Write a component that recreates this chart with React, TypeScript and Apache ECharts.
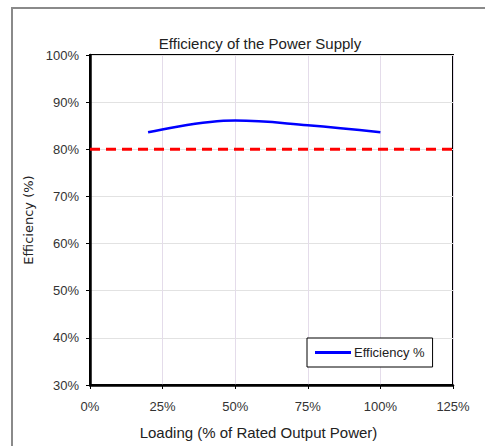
import React, { useEffect, useRef } from "react";
import * as echarts from "echarts";

const loading = [20, 50, 75, 100];
const efficiency = [83.6, 86.1, 85.1, 83.6];
const targetX = [0, 125];
const targetY = [80, 80];
const xTicks = [0, 25, 50, 75, 100, 125];
const yTicks = [30, 40, 50, 60, 70, 80, 90, 100];

const FONT = "Liberation Sans, Arial, sans-serif";

export default function App() {
  const ref = useRef<HTMLDivElement>(null);
  useEffect(() => {
    if (!ref.current) return;
    const chart = echarts.init(ref.current, null, { renderer: "svg" });
    chart.setOption({
      animation: false,
      backgroundColor: "#fff",
      textStyle: { fontFamily: FONT },
      title: {
        text: "Efficiency of the Power Supply",
        left: 255,
        top: 31,
        textAlign: "center",
        textStyle: { fontSize: 15, fontWeight: "normal", color: "#222", fontFamily: FONT },
      },
      graphic: [
        {
          type: "rect",
          shape: { x: 12, y: 8, width: 490, height: 460 },
          style: { fill: "none", stroke: "#8a8a8a", lineWidth: 2 },
          silent: true,
        },
      ],
      legend: {
        left: 307,
        top: 338,
        data: [{ name: "Efficiency %", icon: "rect" }],
        itemWidth: 36,
        itemHeight: 3,
        itemGap: 4,
        padding: [8, 8, 8, 8],
        borderColor: "#000",
        borderWidth: 1,
        borderRadius: 0,
        backgroundColor: "#fff",
        textStyle: { fontSize: 13, color: "#222", fontFamily: FONT, padding: [0, 0, 0, -2] },
      },
      grid: {
        left: 90,
        top: 55,
        right: 32,
        bottom: 61,
        show: true,
        borderColor: "#000",
        borderWidth: 2,
        backgroundColor: "transparent",
      },
      xAxis: {
        type: "value",
        min: xTicks[0],
        max: xTicks[xTicks.length - 1],
        interval: 25,
        name: "Loading (% of Rated Output Power)",
        nameLocation: "middle",
        nameGap: 40,
        nameTextStyle: { fontSize: 15, color: "#222", fontFamily: FONT, padding: [0, 26, 0, 0] },
        axisLine: { lineStyle: { color: "#000", width: 2.5 } },
        axisTick: { show: true, length: 4, lineStyle: { color: "#000" } },
        axisLabel: { formatter: "{value}%", fontSize: 13, color: "#333", margin: 15 },
        splitLine: { show: true, lineStyle: { color: "#e4dcea", width: 1 } },
      },
      yAxis: {
        type: "value",
        min: yTicks[0],
        max: yTicks[yTicks.length - 1],
        interval: 10,
        name: "Efficiency (%)",
        nameLocation: "middle",
        nameGap: 50,
        nameTextStyle: { fontSize: 13, color: "#222", fontFamily: "DejaVu Sans, sans-serif" },
        axisLine: { show: true, lineStyle: { color: "#000", width: 2.5 } },
        axisTick: { show: true, length: 4, lineStyle: { color: "#000" } },
        axisLabel: { formatter: "{value}%", fontSize: 13, color: "#333", margin: 11 },
        splitLine: { show: true, lineStyle: { color: "#e2e2e2", width: 1 } },
      },
      series: [
        {
          name: "Target",
          type: "line",
          data: targetX.map((x, i) => [x, targetY[i]]),
          symbol: "none",
          lineStyle: { color: "#ff0000", width: 3, type: [10, 6] },
          z: 3,
        },
        {
          name: "Efficiency %",
          type: "line",
          data: loading.map((x, i) => [x, efficiency[i]]),
          smooth: 0.4,
          symbol: "none",
          color: "#0000ff",
          lineStyle: { color: "#0000ff", width: 2.5 },
          z: 4,
        },
      ],
    });
    return () => chart.dispose();
  }, []);
  return <div ref={ref} style={{ width: 485, height: 446, position: "absolute", left: 0, top: 0 }} />;
}
